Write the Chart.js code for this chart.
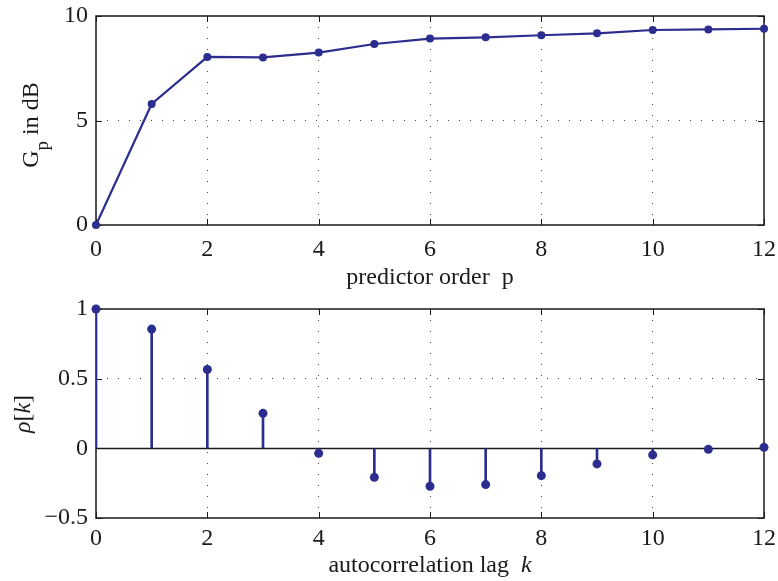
<!DOCTYPE html>
<html>
<head>
<meta charset="utf-8">
<script src="https://cdn.jsdelivr.net/npm/chart.js@4.4.1/dist/chart.umd.min.js"></script>
<style>
html, body { margin:0; padding:0; background:#fff; }
#wrap { position:relative; width:778px; height:581px; }
canvas { position:absolute; left:0; }
#gain_chart { top:0; }
#rho_chart { top:290px; }
</style>
</head>
<body>
<div id="wrap">
    <canvas id="gain_chart" width="778" height="290"></canvas>
    <canvas id="rho_chart" width="778" height="291"></canvas>
</div>
<script>
// top plot: prediction gain vs predictor order
order_p = [0, 1, 2, 3, 4, 5, 6, 7, 8, 9, 10, 11, 12];
gain_db = [0, 5.79, 8.04, 8.02, 8.25, 8.66, 8.92, 8.98, 9.08, 9.17, 9.33, 9.36, 9.39];

// bottom plot: normalized autocorrelation
lag_k = [0, 1, 2, 3, 4, 5, 6, 7, 8, 9, 10, 11, 12];
rho_k = [1, 0.856, 0.566, 0.251, -0.036, -0.208, -0.272, -0.260, -0.196, -0.112, -0.047, -0.007, 0.007];

// tick labels
x_ticks = [0, 2, 4, 6, 8, 10, 12];
gain_ticks = [0, 5, 10];
rho_ticks = [-0.5, 0, 0.5, 1];

blue = '#2b2e8e';
ink = '#1a1a1a';
font_name = "'Liberation Serif', 'Times New Roman', serif";

// draw a piece of text made of parts with different fonts (sub/italic)
function drawRich(ctx, parts, x, y, rotate) {
    ctx.save();
    ctx.translate(x, y);
    if (rotate) ctx.rotate(-Math.PI / 2);
    total = 0;
    parts.forEach(p => {
        ctx.font = p.font;
        p.w = ctx.measureText(p.text).width;
        total += p.w;
    });
    cx = -total / 2;
    ctx.fillStyle = ink;
    ctx.textAlign = 'left';
    ctx.textBaseline = 'alphabetic';
    parts.forEach(p => {
        ctx.font = p.font;
        ctx.fillText(p.text, cx, p.dy || 0);
        cx += p.w;
    });
    ctx.restore();
}

// box around the plot with inward ticks on all four sides (matlab style)
framePlugin = {
    id: 'frame',
    beforeDatasetsDraw(chart) {
        ctx = chart.ctx;
        a = chart.chartArea;
        xs = chart.scales.x;
        ys = chart.scales.y;
        ctx.save();
        ctx.strokeStyle = ink;
        ctx.lineWidth = 1.5;
        ctx.strokeRect(a.left, a.top, a.right - a.left, a.bottom - a.top);
        ctx.lineWidth = 1;
        ctx.beginPath();
        xs.ticks.forEach(t => {
            px = Math.round(xs.getPixelForValue(t.value)) + 0.5;
            ctx.moveTo(px, a.bottom); ctx.lineTo(px, a.bottom - 6);
            ctx.moveTo(px, a.top); ctx.lineTo(px, a.top + 6);
        });
        ys.ticks.forEach(t => {
            py = Math.round(ys.getPixelForValue(t.value)) + 0.5;
            ctx.moveTo(a.left, py); ctx.lineTo(a.left + 6, py);
            ctx.moveTo(a.right, py); ctx.lineTo(a.right - 6, py);
        });
        ctx.stroke();

        // zero line for the stem plot
        if (chart.options.plugins.frame && chart.options.plugins.frame.baseline) {
            py = Math.round(ys.getPixelForValue(0)) + 0.5;
            ctx.lineWidth = 1.5;
            ctx.beginPath();
            ctx.moveTo(a.left, py);
            ctx.lineTo(a.right, py);
            ctx.stroke();
        }
        ctx.restore();
    },
    afterDraw(chart) {
        titles = chart.options.plugins.frame.titles;
        titles.forEach(t => drawRich(chart.ctx, t.parts, t.x, t.y, t.rotate));
    }
};

function dottedGrid(lo, hi) {
    return {
        color: c => (c.tick && (c.tick.value === lo || c.tick.value === hi)) ? 'rgba(0,0,0,0)' : '#444',
        lineWidth: 1,
        drawTicks: false,
        offset: false
    };
}

function tickFmt(v) {
    return v < 0 ? '\u2212' + Math.abs(v) : String(v);
}

// no label overflow padding, the layout padding decides the plot box
function noPad(s) {
    s.paddingTop = 0; s.paddingBottom = 0;
    s.paddingLeft = 0; s.paddingRight = 0;
}

function axes(ymin, ymax, yticks, xHeight, xPad) {
    return {
        x: {
            type: 'linear', min: 0, max: 12, offset: false,
            afterBuildTicks: s => { s.ticks = x_ticks.map(v => ({value: v})); },
            afterFit: s => { s.height = xHeight; noPad(s); },
            grid: dottedGrid(0, 12),
            border: { display: false, dash: [1, 10] },
            ticks: { color: ink, padding: xPad, maxRotation: 0, autoSkip: false,
                     font: { family: font_name, size: 24 }, callback: tickFmt }
        },
        y: {
            type: 'linear', min: ymin, max: ymax,
            afterBuildTicks: s => { s.ticks = yticks.map(v => ({value: v})); },
            afterFit: s => { s.width = 96; noPad(s); },
            grid: dottedGrid(ymin, ymax),
            border: { display: false, dash: [1, 10] },
            ticks: { color: ink, padding: 8, autoSkip: false,
                     font: { family: font_name, size: 24 }, callback: tickFmt }
        }
    };
}

f24 = "24px " + font_name;
f24i = "italic 24px " + font_name;

// top chart: gain curve
gain_chart = new Chart(document.getElementById('gain_chart'), {
    type: 'line',
    data: {
        datasets: [{
            data: order_p.map((p, i) => ({x: p, y: gain_db[i]})),
            borderColor: blue,
            backgroundColor: blue,
            borderWidth: 2.2,
            pointRadius: 4,
            pointBorderWidth: 0,
            tension: 0,
            clip: 8
        }]
    },
    options: {
        responsive: false,
        animation: false,
        layout: { padding: { left: 0, right: 14, top: 16, bottom: 0 } },
        scales: axes(0, 10, gain_ticks, 65, 10),
        plugins: {
            legend: { display: false },
            tooltip: { enabled: false },
            frame: {
                titles: [
                    { x: 430, y: 284, parts: [{text: 'predictor order  p', font: f24}] },
                    { x: 38, y: 125, rotate: true, parts: [
                        {text: 'G', font: f24},
                        {text: 'p', font: "19px " + font_name, dy: 10},
                        {text: ' in dB', font: f24}
                    ]}
                ]
            }
        }
    },
    plugins: [framePlugin]
});

// bottom chart: stems + dots
rho_chart = new Chart(document.getElementById('rho_chart'), {
    type: 'bar',
    data: {
        datasets: [{
            type: 'bar',
            data: lag_k.map((k, i) => ({x: k, y: rho_k[i]})),
            backgroundColor: blue,
            barThickness: 2,
            borderWidth: 0
        }, {
            type: 'line',
            data: lag_k.map((k, i) => ({x: k, y: rho_k[i]})),
            showLine: false,
            backgroundColor: blue,
            borderColor: blue,
            pointRadius: 4.5,
            pointBorderWidth: 0,
            clip: 8
        }]
    },
    options: {
        responsive: false,
        animation: false,
        layout: { padding: { left: 0, right: 14, top: 19, bottom: 0 } },
        scales: axes(-0.5, 1, rho_ticks, 63, 6),
        plugins: {
            legend: { display: false },
            tooltip: { enabled: false },
            frame: {
                baseline: true,
                titles: [
                    { x: 430, y: 282, parts: [
                        {text: 'autocorrelation lag  ', font: f24},
                        {text: 'k', font: f24i}
                    ]},
                    { x: 30, y: 124, rotate: true, parts: [
                        {text: '\u03c1', font: f24i},
                        {text: '[', font: f24},
                        {text: 'k', font: f24i},
                        {text: ']', font: f24}
                    ]}
                ]
            }
        }
    },
    plugins: [framePlugin]
});
</script>
</body>
</html>
